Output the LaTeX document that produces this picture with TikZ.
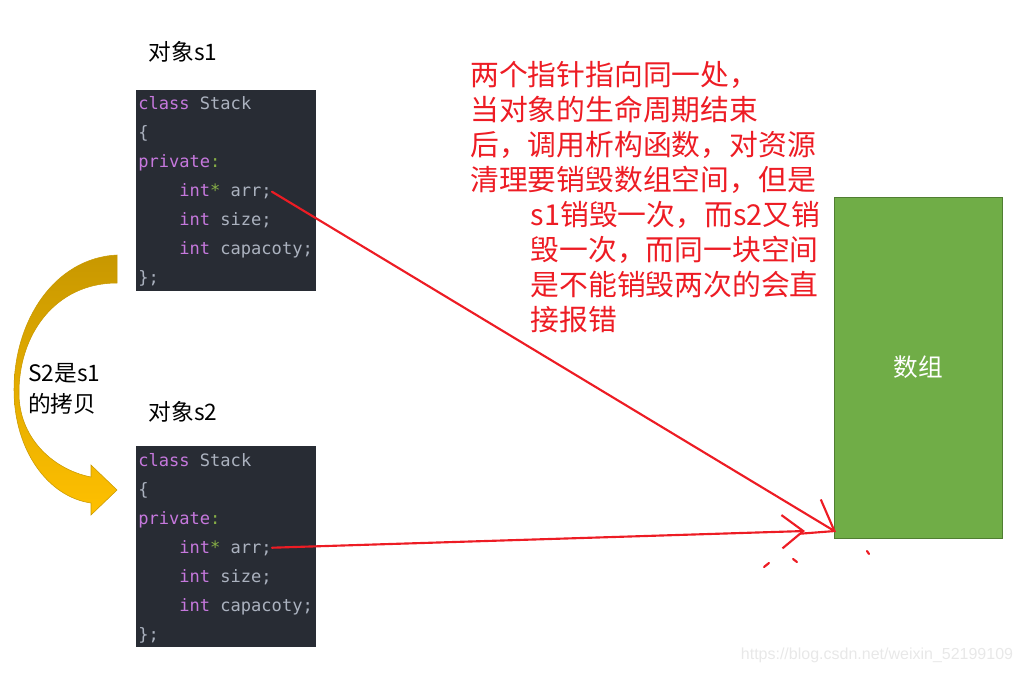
\documentclass[tikz,border=0pt]{standalone}
\usepackage{fontspec}
\setmainfont{Noto Sans CJK SC}
\newfontfamily\codefont{DejaVu Sans Mono}
\newfontfamily\webfont{Liberation Sans}
\usetikzlibrary{arrows.meta,positioning}

\definecolor{codebg}{RGB}{40,44,52}
\definecolor{kwpurple}{RGB}{198,120,221}
\definecolor{codegray}{RGB}{171,178,191}
\definecolor{codegreen}{RGB}{135,175,70}
\definecolor{inkred}{RGB}{237,28,36}
\definecolor{arrgreen}{RGB}{112,173,71}
\definecolor{arrborder}{RGB}{80,126,50}
\definecolor{golddark}{RGB}{200,152,0}
\definecolor{goldlight}{RGB}{255,192,0}
\definecolor{wmgray}{RGB}{232,232,232}

\newcommand\kw[1]{\textcolor{kwpurple}{#1}}
\newcommand\pn[1]{\textcolor{codegreen}{#1}}

\begin{document}
\begin{tikzpicture}[
  x=0.75pt, y=-0.75pt,
  label/.style={inner sep=0pt, font=\fontsize{17}{23}\selectfont},
  codebox/.style={fill=codebg, minimum width=135pt, minimum height=150.75pt, inner sep=0pt},
  codeline/.style={anchor=base west, inner sep=0pt, text=codegray, font=\codefont\fontsize{12.8}{15}\selectfont},
  arraybox/.style={draw=arrborder, fill=arrgreen, minimum width=126pt, minimum height=255.75pt, outer sep=0pt, text=white, font=\fontsize{18.5}{22}\selectfont},
  note/.style={anchor=north west, align=left, inner sep=0pt, text=inkred, font=\fontsize{21.6}{26.25}\selectfont},
  pointer/.style={draw=inkred, line width=1.6pt, line cap=round},
  pointerA/.style={pointer, -{Straight Barb[length=21pt, width=30pt]}},
  pointerB/.style={pointer, -{Straight Barb[length=16pt, width=25pt]}},
  watermark/.style={inner sep=0pt, text=wmgray, font=\webfont\fontsize{12}{14}\selectfont}
]
\useasboundingbox (0,0) rectangle (1023,673);

\node[label] (s1lbl) at (183,52) {对象s1};
\node[label] (s2lbl) at (183,412) {对象s2};

% the two copies of the class
\foreach \n/\dy in {1/0,2/356} {
  \node[codebox] (box\n) at (226,190.5+\dy) {};
  \node[codeline] (cls\n) at (138,110+\dy) {\kw{class} Stack};
  \node[codeline] (lbr\n) at (138,139+\dy) {\{};
  \node[codeline] (prv\n) at (138,168+\dy) {\kw{private}\pn{:}};
  \node[codeline] (arr\n) at (179,197+\dy) {\kw{int}\pn{*} arr;};
  \node[codeline] (siz\n) at (179,226+\dy) {\kw{int} size;};
  \node[codeline] (cap\n) at (179,255+\dy) {\kw{int} capacoty;};
  \node[codeline] (rbr\n) at (138,284+\dy) {\};};
}

% curved copy arrow
\shade[top color=golddark, bottom color=goldlight, draw=golddark, line width=0.4pt]
  (117,255) .. controls (55,258) and (14,320) .. (14,390)
  .. controls (14,450) and (48,497) .. (91,503)
  -- (91,515) -- (117,490) -- (91,465) -- (91,477)
  .. controls (55,470) and (20,440) .. (19,395)
  .. controls (18,335) and (55,283) .. (117,283) -- cycle;
\node[label, anchor=west, align=left] (copylbl) at (28,389) {S2是s1\\的拷贝};

\node[arraybox] (array) at (918,367.5) {数组};

\node[note] (why) at (470,61) {两个指针指向同一处，\\
当对象的生命周期结束\\
后，调用析构函数，对资源\\
清理要销毁数组空间，但是\\
\hspace*{2.1em}s1销毁一次，而s2又销\\
\hspace*{2.1em}毁一次，而同一块空间\\
\hspace*{2.1em}是不能销毁两次的会直\\
\hspace*{2.1em}接报错};

% pointers
\coordinate (tipA) at (836,532);
\coordinate (tipB) at (805,531);
\draw[pointerA] (arr1.east) -- (tipA);
\draw[pointerB] (arr2.east) -- (tipB);
\draw[pointer] (764,567) -- (769,563);
\draw[pointer] (793,559) -- (797,562);
\draw[pointer] (867,551) -- (869,554);

\node[watermark] (wm) at (877,655) {https://blog.csdn.net/weixin\_52199109};
\end{tikzpicture}
\end{document}
